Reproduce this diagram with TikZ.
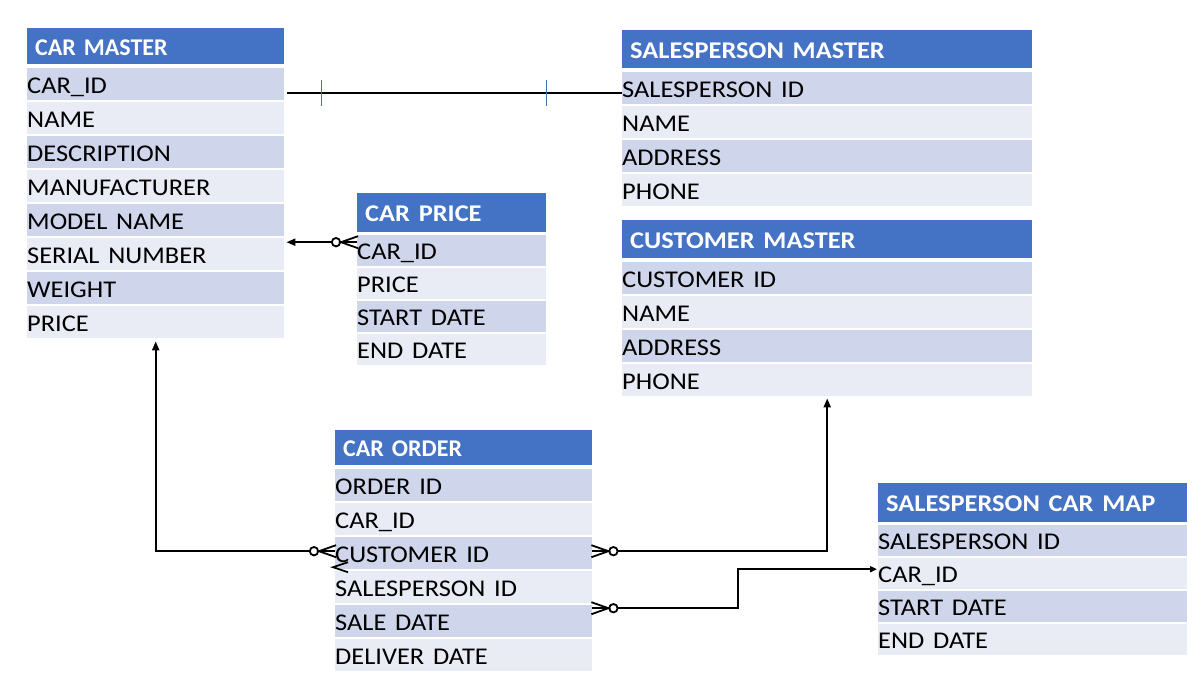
\documentclass[tikz,border=0pt]{standalone}
\usepackage{fontspec}
\setmainfont{Carlito}
\usetikzlibrary{calc,arrows.meta}
\definecolor{hd}{HTML}{4472C4}
\definecolor{dk}{HTML}{CFD5EA}
\definecolor{lt}{HTML}{E9EBF5}
\definecolor{tk}{HTML}{4A6FA8}
\newcommand\hs[1]{\scalebox{1.1}[1]{#1}}
\newcommand\datafont{\fontsize{24pt}{28pt}\selectfont}
% #1 coordinate at entity edge, #2 direction (1: line leaves to the left, -1: to the right)
\newcommand\crowfoot[2]{%
  \draw[crow] ($(#1)+(#2*1,-6)$) -- ($(#1)+(#2*-16,0)$) -- ($(#1)+(#2*1,6)$);
  \draw[crow] (#1) -- ($(#1)+(#2*-16,0)$);
  \draw[crow] ($(#1)+(#2*-21,0)$) circle[radius=4.2];
}
\begin{document}
\begin{tikzpicture}[x=1pt,y=-1pt,
  hdr/.style={anchor=north west, fill=hd, text=white, font=\datafont\bfseries,
    inner xsep=8pt, inner ysep=0pt, text height=18pt, text depth=0pt, align=left},
  erow/.style={anchor=north west, text=black, font=\datafont,
    inner xsep=0pt, inner ysep=0pt, text height=18pt, text depth=0pt, align=left},
  rowfill1/.style={fill=dk},
  rowfill0/.style={fill=lt},
  conn/.style={draw=black, line width=2pt},
  crow/.style={draw=black, line width=1.8pt},
  tick/.style={draw=tk, line width=1pt},
  tip/.style={-{Triangle[length=9pt,width=7pt]}},
  smalltip/.style={-{Triangle[length=7pt,width=6pt]}}
]
\useasboundingbox (0,0) rectangle (1203,692);
\fill[white] (0,0) rectangle (1203,692);

% CAR MASTER
\node[hdr, minimum width=257, text width=241, minimum height=36] (cm0) at (27,28) {CAR MASTER};
\foreach \t [count=\i] in {CAR\_ID,NAME,DESCRIPTION,MANUFACTURER,MODEL NAME,SERIAL NUMBER,WEIGHT,PRICE}{
  \pgfmathtruncatemacro\p{mod(\i,2)}
  \node[erow, rowfill\p, minimum width=257, text width=257, minimum height=32] (cm\i) at (27,{68+34*(\i-1)}) {\hs{\t}};
}

% SALESPERSON MASTER
\node[hdr, minimum width=410, text width=394, minimum height=38] (sm0) at (622,30) {\hs{SALESPERSON MASTER}};
\foreach \t [count=\i] in {SALESPERSON ID,NAME,ADDRESS,PHONE}{
  \pgfmathtruncatemacro\p{mod(\i,2)}
  \node[erow, rowfill\p, minimum width=410, text width=410, minimum height=32] (sm\i) at (622,{72+34*(\i-1)}) {\hs{\t}};
}

% CUSTOMER MASTER
\node[hdr, minimum width=410, text width=394, minimum height=38] (cu0) at (622,220) {\hs{CUSTOMER MASTER}};
\foreach \t [count=\i] in {CUSTOMER ID,NAME,ADDRESS,PHONE}{
  \pgfmathtruncatemacro\p{mod(\i,2)}
  \node[erow, rowfill\p, minimum width=410, text width=410, minimum height=32] (cu\i) at (622,{262+34*(\i-1)}) {\hs{\t}};
}

% CAR PRICE
\node[hdr, minimum width=189, text width=173, minimum height=39] (cp0) at (357,193) {\hs{CAR PRICE}};
\foreach \t [count=\i] in {CAR\_ID,PRICE,START DATE,END DATE}{
  \pgfmathtruncatemacro\p{mod(\i,2)}
  \node[erow, rowfill\p, minimum width=189, text width=189, minimum height=31] (cp\i) at (357,{235+33*(\i-1)}) {\hs{\t}};
}

% CAR ORDER
\node[hdr, minimum width=257, text width=241, minimum height=35] (co0) at (335,430) {CAR ORDER};
\foreach \t [count=\i] in {ORDER ID,CAR\_ID,CUSTOMER ID,SALESPERSON ID,SALE DATE,DELIVER DATE}{
  \pgfmathtruncatemacro\p{mod(\i,2)}
  \node[erow, rowfill\p, minimum width=257, text width=257, minimum height=32] (co\i) at (335,{469+34*(\i-1)}) {\hs{\t}};
}

% SALESPERSON CAR MAP
\node[hdr, minimum width=309, text width=293, minimum height=39] (sc0) at (878,483) {\hs{SALESPERSON CAR MAP}};
\foreach \t [count=\i] in {SALESPERSON ID,CAR\_ID,START DATE,END DATE}{
  \pgfmathtruncatemacro\p{mod(\i,2)}
  \node[erow, rowfill\p, minimum width=309, text width=309, minimum height=31] (sc\i) at (878,{525+33*(\i-1)}) {\hs{\t}};
}

% CAR MASTER.CAR_ID -- SALESPERSON MASTER.SALESPERSON ID
\coordinate (a1) at ($(cm1.east)+(3,9)$);
\draw[conn] (a1) -- (a1 -| sm1.west);
\draw[tick] ($(a1)+(34,-13)$) -- ++(0,26);
\draw[tick] ($(a1)+(259,-13)$) -- ++(0,26);

% CAR PRICE.CAR_ID -> CAR MASTER.SERIAL NUMBER
\coordinate (p1) at ($(cp1.west)+(0,-8.5)$);
\crowfoot{p1}{1}
\draw[conn, tip] ($(p1)+(-25.2,0)$) -- ($(cm6.east |- p1)+(2,0)$);

% CAR ORDER.CUSTOMER ID -> CAR MASTER.PRICE
\coordinate (p2) at ($(co3.west)+(0,-2)$);
\crowfoot{p2}{1}
\draw[conn, tip] ($(p2)+(-25.2,0)$) -| ($(cm8.south)+(0,3)$);
\draw[crow] ($(co3.west)+(13,9)$) -- ($(co3.west)+(-2,14)$) -- ($(co3.west)+(13,19)$);

% CAR ORDER.CUSTOMER ID -> CUSTOMER MASTER
\coordinate (p3) at ($(co3.east)+(0,-2)$);
\crowfoot{p3}{-1}
\draw[conn, tip] ($(p3)+(25.2,0)$) -| ($(cu4.south)+(0,2)$);

% CAR ORDER.SALE DATE -> SALESPERSON CAR MAP.CAR_ID
\coordinate (p4) at ($(co5.east)+(0,-13)$);
\crowfoot{p4}{-1}
\draw[conn, smalltip] ($(p4)+(25.2,0)$) -- ++(119.9,0) |- ($(sc2.west)+(-1,-4.5)$);
\end{tikzpicture}
\end{document}
